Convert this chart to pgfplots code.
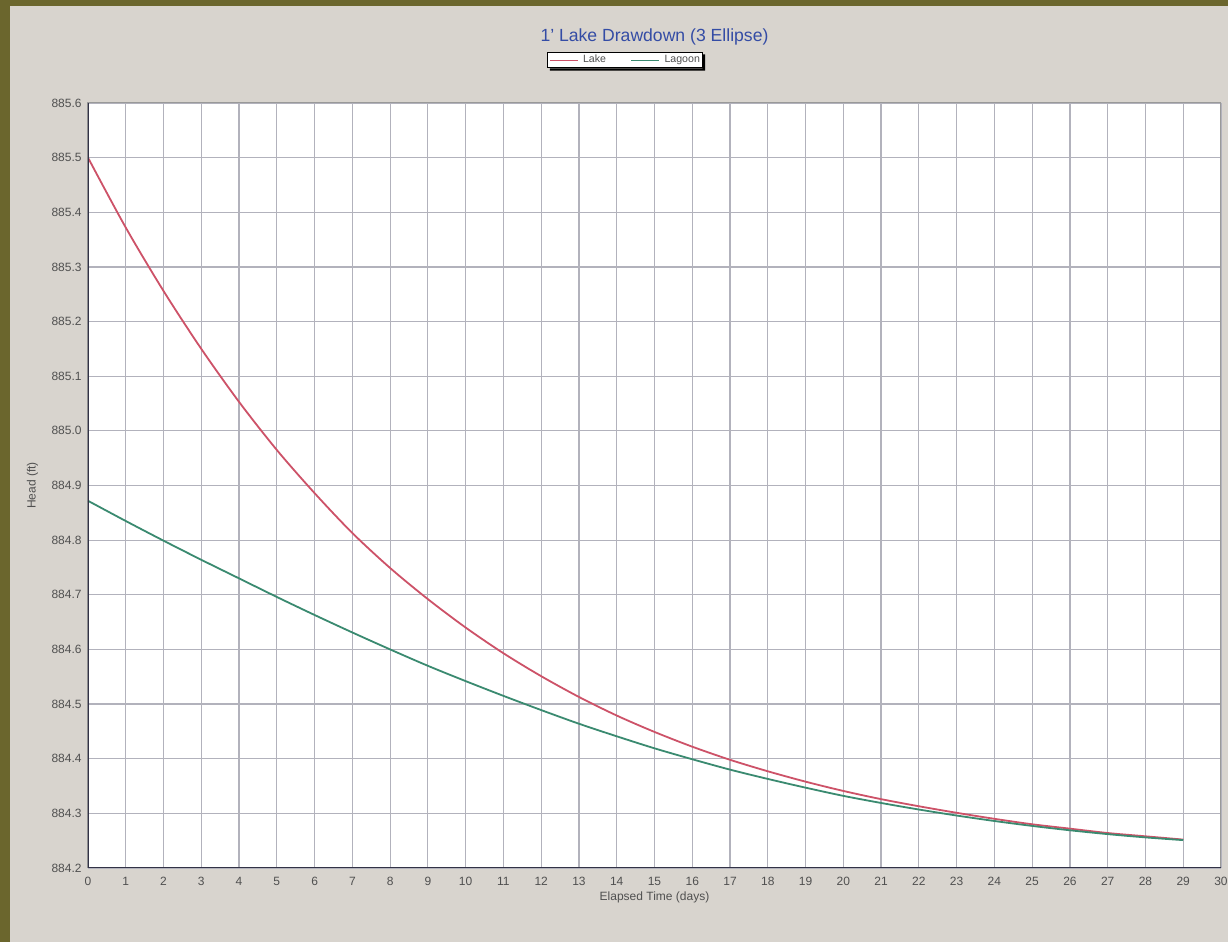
\documentclass[border=0pt]{standalone}
\usepackage{pgfplots}
\pgfplotsset{compat=1.18}
\usepackage{fontspec}
\setmainfont{Liberation Sans}

\definecolor{frame}{RGB}{107,102,45}
\definecolor{panel}{RGB}{216,212,206}
\definecolor{gridc}{RGB}{178,178,188}
\definecolor{lakec}{RGB}{205,82,104}
\definecolor{lagoonc}{RGB}{58,138,112}
\definecolor{titlec}{RGB}{52,76,165}
\definecolor{labc}{RGB}{80,80,80}

\begin{document}
\begin{tikzpicture}
% canvas 1228x942 px at 0.5pt per px
\useasboundingbox (0,0) rectangle (614pt,471pt);
\fill[frame] (0,0) rectangle (614pt,471pt);
\fill[panel] (5pt,0) rectangle (614pt,468pt);

\begin{axis}[
    at={(44pt,37pt)}, anchor=south west,
    scale only axis, width=566.5pt, height=382.5pt,
    xmin=0, xmax=30, ymin=884.2, ymax=885.6,
    xtick={0,...,30},
    ytick={884.2,884.3,884.4,884.5,884.6,884.7,884.8,884.9,885.0,885.1,885.2,885.3,885.4,885.5,885.6},
    yticklabels={884.2,884.3,884.4,884.5,884.6,884.7,884.8,884.9,885.0,885.1,885.2,885.3,885.4,885.5,885.6},
    grid=major,
    major grid style={draw=gridc, line width=0.6pt},
    major tick length=0pt,
    axis line style={draw=gray!80, line width=0.5pt},
    axis background/.style={fill=white},
    tick label style={font=\fontsize{6}{7}\selectfont, text=labc, inner sep=0pt},
    /pgf/number format/assume math mode=true,
    xticklabel shift=4.5pt, yticklabel shift=3pt,
    xlabel={Elapsed Time (days)},
    ylabel={Head (ft)},
    label style={font=\fontsize{6}{7}\selectfont, text=labc},
    xlabel style={at={(axis description cs:0.5,-0.038)}, anchor=center},
    ylabel style={at={(axis description cs:-0.049,0.5)}, anchor=center},
    title={1' Lake Drawdown (3 Ellipse)},
    title style={at={(axis description cs:0.5,1.071)}, anchor=center, yshift=0pt,
        font=\fontsize{8.8}{10}\selectfont, text=titlec},
    legend columns=2,
    legend style={name=leg, at={(axis description cs:0.474,1.056)}, anchor=center,
        font=\fontsize{5.3}{6}\selectfont, text=labc, draw=black, line width=0.4pt,
        fill=white, inner sep=0.8pt, row sep=0pt, nodes={inner sep=0.4pt},
        /tikz/every even column/.append style={column sep=12pt},
        /tikz/every odd column/.append style={column sep=2pt}},
    legend image code/.code={\draw[#1, line width=0.45pt] (0pt,0pt) -- (14pt,0pt);},
]
\addplot[lakec, line width=0.9pt, smooth] coordinates {
    (0,885.500) (1,885.372) (2,885.256) (3,885.150) (4,885.053)
    (5,884.965) (6,884.886) (7,884.813) (8,884.749) (9,884.692)
    (10,884.640) (11,884.593) (12,884.551) (13,884.513) (14,884.479)
    (15,884.449) (16,884.422) (17,884.398) (18,884.377) (19,884.358)
    (20,884.341) (21,884.326) (22,884.313) (23,884.301) (24,884.290)
    (25,884.280) (26,884.272) (27,884.264) (28,884.258) (29,884.252)
};
\addlegendentry{Lake}
\addplot[lagoonc, line width=0.9pt, smooth] coordinates {
    (0,884.872) (1,884.835) (2,884.799) (3,884.764) (4,884.730)
    (5,884.696) (6,884.663) (7,884.631) (8,884.600) (9,884.570)
    (10,884.542) (11,884.515) (12,884.489) (13,884.464) (14,884.441)
    (15,884.419) (16,884.399) (17,884.380) (18,884.363) (19,884.347)
    (20,884.332) (21,884.319) (22,884.307) (23,884.296) (24,884.286)
    (25,884.277) (26,884.269) (27,884.262) (28,884.256) (29,884.251)
};
\addlegendentry{Lagoon}
\draw[draw={rgb,255:red,50;green,50;blue,70}, line width=1pt]
    (rel axis cs:0,1) -- (rel axis cs:0,0) -- (rel axis cs:1,0);
\end{axis}
% shadow of the legend box
\fill[black] ([yshift=-1.2pt]leg.north east) -- ([xshift=1.2pt,yshift=-1.2pt]leg.north east)
    -- ([xshift=1.2pt,yshift=-1.2pt]leg.south east) -- ([xshift=1.2pt,yshift=-1.2pt]leg.south west)
    -- ([xshift=1.2pt]leg.south west) -- (leg.south east) -- cycle;
\end{tikzpicture}
\end{document}
